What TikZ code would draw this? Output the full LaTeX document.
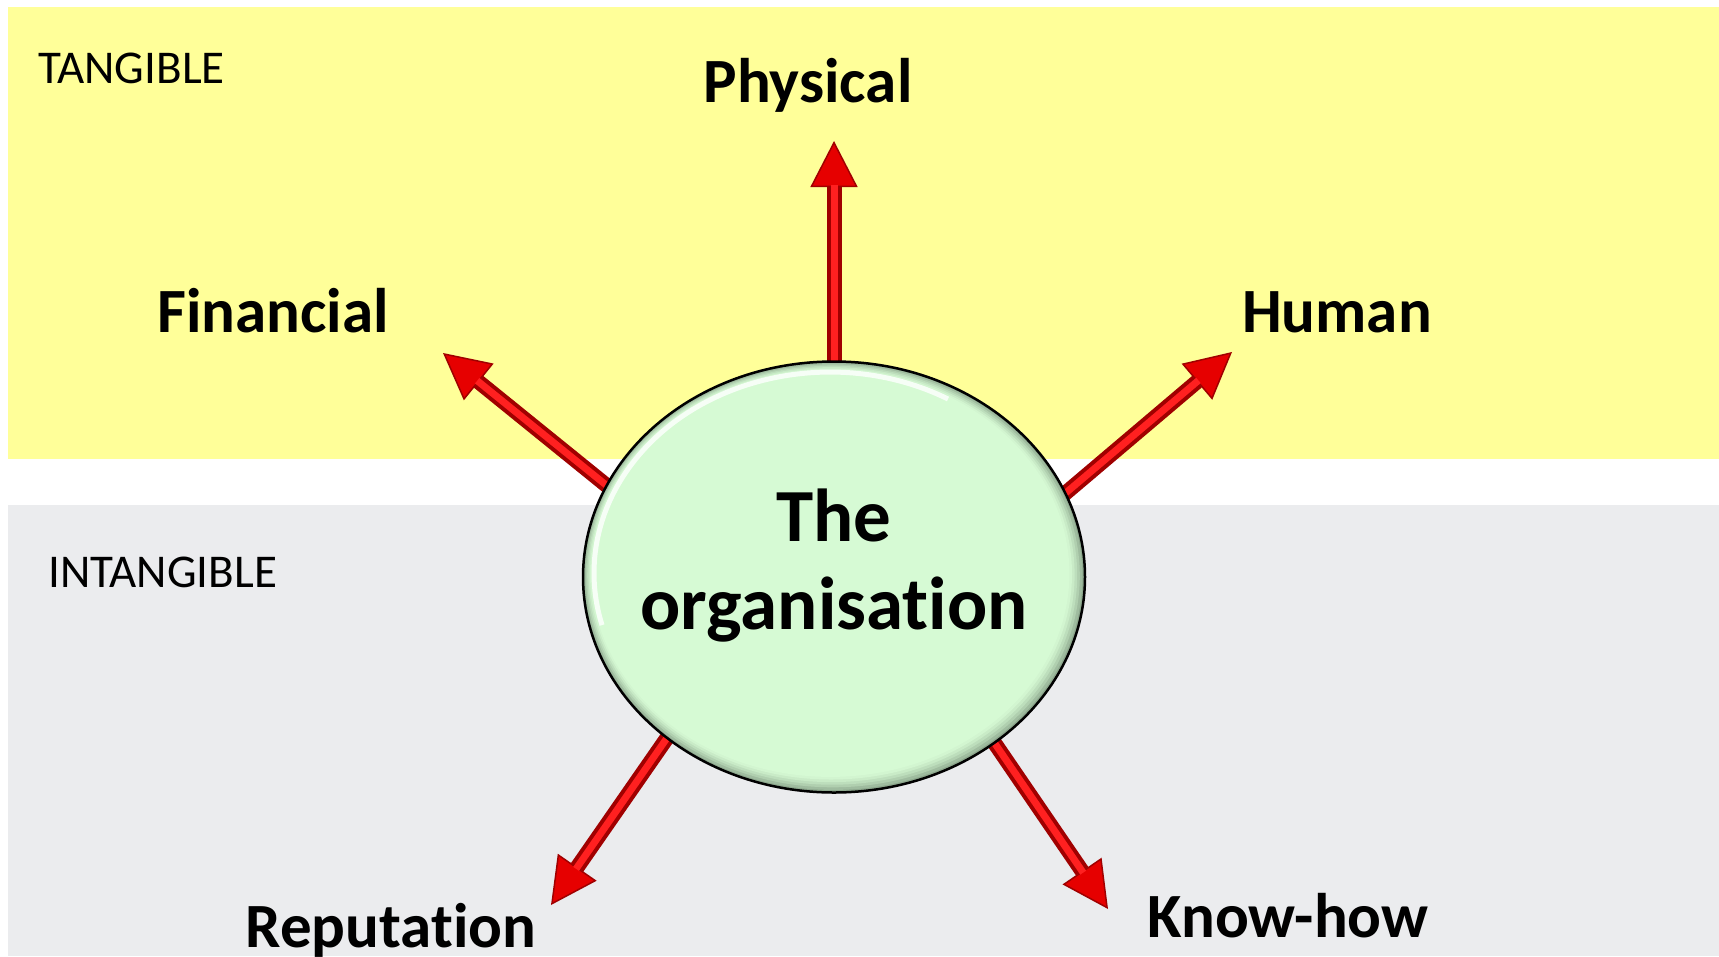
\documentclass[tikz,border=0pt]{standalone}
\usepackage{fontspec}
\setmainfont{Carlito}[Ligatures=NoCommon]
\usetikzlibrary{arrows.meta,positioning,shapes.geometric}
\definecolor{tanyellow}{HTML}{FFFF99}
\definecolor{intgrey}{HTML}{EBECEE}
\definecolor{orggreen}{HTML}{D6FAD4}
\definecolor{orgedge}{HTML}{8DA88D}
\definecolor{spokered}{HTML}{E60000}
\definecolor{spokedark}{HTML}{A00000}
\definecolor{spokehi}{HTML}{FF2020}
\pgfdeclarelayer{back}
\pgfdeclarelayer{spokes}
\pgfsetlayers{back,spokes,main}
\tikzset{
 kind/.style={inner sep=0pt, anchor=base west, font=\fontsize{47}{56}\selectfont},
 asset/.style={inner sep=0pt, anchor=base, font=\fontsize{63}{76}\selectfont\bfseries},
 org/.style={ellipse, draw=black, line width=2.5pt, fill=orgedge,
   minimum width=502pt, minimum height=431pt, inner sep=0pt,
   path picture={
     \foreach \d/\m in {2/75,4/52,6/34,8/18,10/6,12/0}
       \fill[orgedge!\m!orggreen] ([shift={({-0.3*\d},{0.3*\d})}]path picture bounding box.center)
         ellipse [x radius={(251-\d)*1pt}, y radius={(215.5-\d)*1pt}];
     \draw[white, line width=5pt, opacity=.8] ([shift={(114pt,178pt)}]path picture bounding box.center)
       arc[start angle=60, end angle=195, x radius=236pt, y radius=201pt];
   }},
 orgname/.style={inner sep=0pt, align=center, font=\fontsize{75}{88}\selectfont\bfseries},
 spoke/.style={line width=15pt, draw=spokedark, shorten <=-12pt,
   -{Triangle[length=46pt,width=47pt,fill=spokered,line width=1.5pt]}},
 spokeshine/.style={line width=7pt, draw=spokehi, shorten <=-12pt, shorten >=44pt},
}
\begin{document}
\begin{tikzpicture}[x=1pt,y=1pt]
\useasboundingbox (0,0) rectangle (1719,-956);
% bands
\begin{pgfonlayer}{back}
 \fill[tanyellow] (8,-7) rectangle (1719,-459);
 \fill[intgrey] (8,-505) rectangle (1719,-956);
\end{pgfonlayer}
 \node[kind] (tangible) at (38,-83) {TANGIBLE};
 \node[kind] (intangible) at (48,-587) {INTANGIBLE};
% nodes
 \node[org] (org) at (834,-577) {};
 \node[orgname, yshift=11pt] (orgtext) at (org) {The\\organisation};
 \coordinate (tipP) at (834,-141);
 \coordinate (tipF) at (443,-353);
 \coordinate (tipH) at (1232,-352);
 \coordinate (tipR) at (551,-905);
 \coordinate (tipK) at (1108,-909);
 \node[above left=39pt and 26pt of tipP, asset] (physical) {Physical};
 \node[above left=21pt and 170pt of tipF, asset] (financial) {Financial};
 \node[above right=20pt and 105pt of tipH, asset] (human) {Human};
 \node[below left=42pt and 160pt of tipR, asset] (reputation) {Reputation};
 \node[below right=28pt and 180pt of tipK, asset] (knowhow) {Know-how};
% edges
\begin{pgfonlayer}{spokes}
 \foreach \a/\t in {90/tipP,158/tipF,20/tipH,224/tipR,314/tipK}{
  \draw[spoke] (org.\a) -- (\t);
  \draw[spokeshine] (org.\a) -- (\t);
 }
\end{pgfonlayer}
\end{tikzpicture}
\end{document}
